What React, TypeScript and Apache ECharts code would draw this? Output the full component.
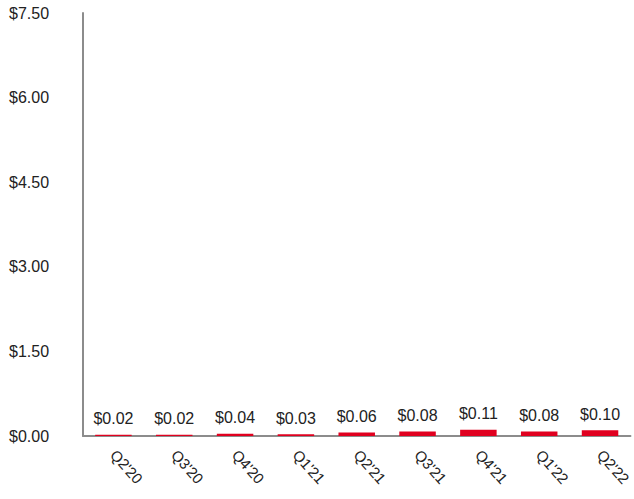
import React, { useEffect, useRef } from "react";
import * as echarts from "echarts";

const categories = ["Q2'20", "Q3'20", "Q4'20", "Q1'21", "Q2'21", "Q3'21", "Q4'21", "Q1'22", "Q2'22"];
const values = [0.02, 0.02, 0.04, 0.03, 0.06, 0.08, 0.11, 0.08, 0.1];
const yMin = 0;
const yMax = 7.5;
const yInterval = 1.5;

export default function App() {
  const ref = useRef<HTMLDivElement>(null);
  useEffect(() => {
    if (!ref.current) return;
    const chart = echarts.init(ref.current, undefined, { renderer: "svg" });
    const font = "'Liberation Sans', Arial, sans-serif";
    chart.setOption({
      animation: false,
      grid: { left: 83, right: 2, top: 13, bottom: 63, containLabel: false },
      xAxis: {
        type: "category",
        data: categories,
        axisLine: { show: true, lineStyle: { color: "#8c8c8c", width: 2 } },
        axisTick: { show: false },
        axisLabel: {
          interval: 0,
          rotate: -48,
          margin: 16,
          fontSize: 15,
          color: "#222",
          fontFamily: font,
        },
      },
      yAxis: {
        type: "value",
        min: yMin,
        max: yMax,
        interval: yInterval,
        axisLine: { show: true, lineStyle: { color: "#8c8c8c", width: 2 } },
        axisTick: { show: false },
        splitLine: { show: false },
        axisLabel: {
          align: "left",
          margin: 74,
          fontSize: 16,
          color: "#222",
          fontFamily: font,
          formatter: (v: number) => "$" + v.toFixed(2),
        },
      },
      series: [
        {
          type: "bar",
          data: values,
          barWidth: "60%",
          itemStyle: { color: "#e0001f" },
          label: {
            show: true,
            position: "top",
            distance: 8,
            fontSize: 16,
            color: "#222",
            fontFamily: font,
            formatter: (p: any) => "$" + Number(p.value).toFixed(2),
          },
        },
      ],
    });
    return () => chart.dispose();
  }, []);
  return <div ref={ref} style={{ width: 634, height: 499, position: "absolute", left: 0, top: 0 }} />;
}
